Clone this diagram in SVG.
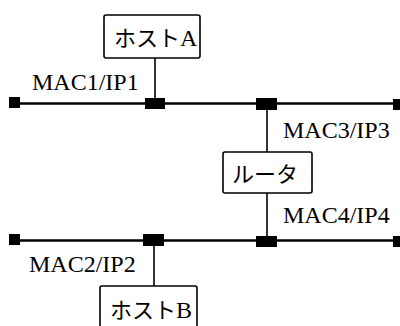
<svg xmlns="http://www.w3.org/2000/svg" width="400" height="326" viewBox="0 0 400 326">
<style>
.box{fill:#fff;stroke:#000;stroke-width:1.6}
.bus{stroke:#000;stroke-width:2.6;fill:none}
.drop{stroke:#000;stroke-width:1.6;fill:none}
.sq{fill:#000}
.jp{font-family:"Liberation Serif","Noto Sans CJK JP",serif;font-size:22px;fill:#000}
.lt{font-size:24px}
.lbl{font-family:"Liberation Serif",serif;font-size:24px;fill:#000}
</style>
<rect width="400" height="326" fill="#fff"/>
<g id="connectors">
<line class="bus" x1="14" y1="103.5" x2="396" y2="103.5"/>
<line class="bus" x1="14" y1="240.5" x2="396" y2="240.5"/>
<line class="drop" x1="155" y1="58" x2="155" y2="103"/>
<line class="drop" x1="267" y1="103" x2="267" y2="152"/>
<line class="drop" x1="267" y1="193" x2="267" y2="241"/>
<line class="drop" x1="154" y1="241" x2="154" y2="286"/>
<rect class="sq" x="9" y="97" width="11" height="11"/>
<rect class="sq" x="145" y="98" width="20" height="11"/>
<rect class="sq" x="256" y="98" width="21" height="12"/>
<rect class="sq" x="393" y="99" width="8" height="11"/>
<rect class="sq" x="9" y="234" width="11" height="11"/>
<rect class="sq" x="143" y="234" width="21" height="12"/>
<rect class="sq" x="256" y="236" width="21" height="11"/>
<rect class="sq" x="393" y="236" width="8" height="11"/>
</g>
<g id="hostA">
<rect class="box" x="104" y="15" width="96" height="43" rx="2"/>
<text class="jp" x="114" y="46">ホスト<tspan class="lt">A</tspan></text>
</g>
<g id="router">
<rect class="box" x="223" y="152" width="89" height="41" rx="2"/>
<text class="jp" x="232" y="182">ルータ</text>
</g>
<g id="hostB">
<rect class="box" x="100" y="286" width="97" height="50" rx="2"/>
<text class="jp" x="110" y="318">ホスト<tspan class="lt">B</tspan></text>
</g>
<g id="labels">
<text class="lbl" x="32" y="90">MAC1/IP1</text>
<text class="lbl" x="283" y="138">MAC3/IP3</text>
<text class="lbl" x="283" y="223">MAC4/IP4</text>
<text class="lbl" x="29" y="272">MAC2/IP2</text>
</g>
</svg>
